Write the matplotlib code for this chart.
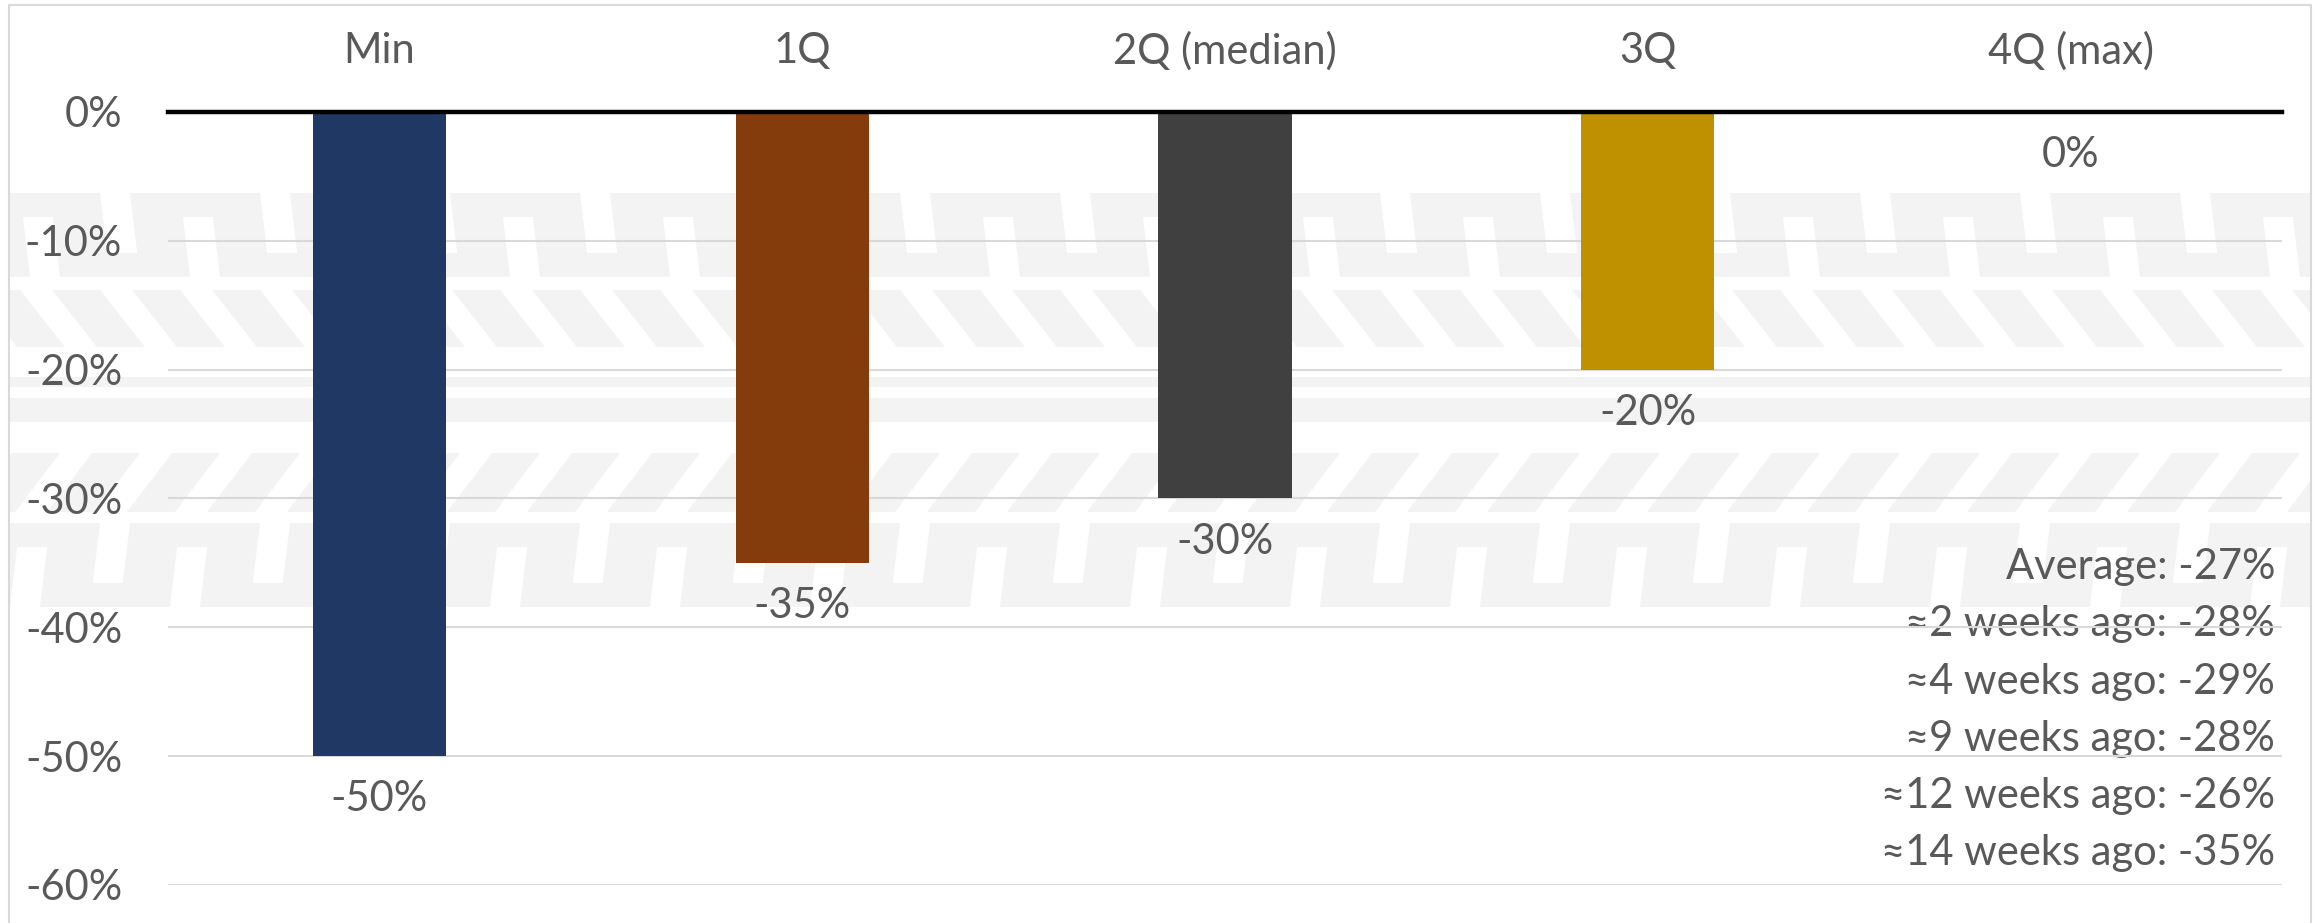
import numpy as np
import matplotlib
matplotlib.use("Agg")
import matplotlib.pyplot as plt
from matplotlib.patches import Polygon, Rectangle
from matplotlib.ticker import PercentFormatter

# ---- data ----
categories = ["Min", "1Q", "2Q (median)", "3Q", "4Q (max)"]
values = [-0.50, -0.35, -0.30, -0.20, 0.00]
bar_colors = ["#203864", "#843C0C", "#404040", "#BF9000", "#7F7F7F"]
yticks = [0.0, -0.1, -0.2, -0.3, -0.4, -0.5, -0.6]
note_labels = ["Average", "\u22482 weeks ago", "\u22484 weeks ago",
               "\u22489 weeks ago", "\u224812 weeks ago", "\u224814 weeks ago"]
note_values = [-0.27, -0.28, -0.29, -0.28, -0.26, -0.35]

plt.rcParams["font.family"] = ["Lato", "DejaVu Sans"]
plt.rcParams["axes.unicode_minus"] = False
TXT = "#595959"
FS = 30

W, H = 2321, 923
fig = plt.figure(figsize=(W / 100, H / 100), dpi=100)

# ---- decorative background (tire-tread watermark) ----
bg = fig.add_axes([0, 0, 1, 1])
bg.set_xlim(0, W)
bg.set_ylim(H, 0)
bg.axis("off")
GRAY = "#F3F3F3"

def band(y0, y1, period, sw, slant, alt_gap=0, x0=-60):
    bg.add_patch(Rectangle((0, y0), 2311, y1 - y0, color=GRAY, lw=0, zorder=0))
    k = 0
    x = x0
    while x < 2400:
        if alt_gap:
            if k % 2 == 0:
                ya, yb = y0, y1 - alt_gap
            else:
                ya, yb = y0 + alt_gap, y1
        else:
            ya, yb = y0, y1
        fa = (ya - y0) / (y1 - y0)
        fb = (yb - y0) / (y1 - y0)
        xa = x + slant * fa
        xb = x + slant * fb
        bg.add_patch(Polygon([(xa, ya), (xa + sw, ya), (xb + sw, yb), (xb, yb)],
                             closed=True, color="white", lw=0, zorder=1))
        x += period
        k += 1

band(193, 277, 80, 30, 10, alt_gap=24)
band(290, 347, 80, 32, 45)
bg.add_patch(Rectangle((0, 377), 2311, 10, color=GRAY, lw=0, zorder=0))
bg.add_patch(Rectangle((0, 398), 2311, 24, color=GRAY, lw=0, zorder=0))
band(453, 512, 80, 32, -45, x0=-20)
band(523, 607, 80, 30, -10, alt_gap=24)
bg.add_patch(Rectangle((0, 0), 2311, 5, color="white", lw=0, zorder=2))
bg.add_patch(Rectangle((2311, 0), 20, H, color="white", lw=0, zorder=2))
bg.add_patch(Rectangle((0, 0), 9, H, color="white", lw=0, zorder=2))
bg.plot([9, 9, 2311, 2311], [H + 10, 5, 5, H + 10], color="#D9D9D9", lw=1.5, zorder=3)

# ---- main chart ----
left, right, top, bottom = 168, 2282, 112, 885
ax = fig.add_axes([left / W, 1 - bottom / H, (right - left) / W, (bottom - top) / H])
ax.set_facecolor("none")
x = np.arange(len(categories))
ax.bar(x, values, width=0.315, color=bar_colors, zorder=2)
ax.set_xlim(-0.5, len(categories) - 0.5)
ax.set_ylim(-0.6, 0)
ax.set_yticks(yticks)
ax.yaxis.set_major_formatter(PercentFormatter(1.0, decimals=0))
ax.yaxis.grid(True, color="#D9D9D9", lw=1.5)
ax.set_axisbelow(True)
ax.axhline(0, color="black", lw=3.2, zorder=3, clip_on=False)
for s in ax.spines.values():
    s.set_visible(False)
ax.xaxis.tick_top()
ax.set_xticks(x, categories)
ax.tick_params(axis="x", length=0, pad=30, labelsize=FS, labelcolor=TXT)
ax.tick_params(axis="y", length=0, pad=33, labelsize=FS, labelcolor=TXT)

for xi, v in zip(x, values):
    ax.annotate(f"{v:.0%}", (xi, v), xytext=(0, -31), textcoords="offset points",
                ha="center", va="center", fontsize=FS, color=TXT)

for i, (lab, v) in enumerate(zip(note_labels, note_values)):
    bg.text(2275, 567 + i * 57.3, f"{lab}: {v:.0%}", ha="right", va="center",
            fontsize=FS, color=TXT, zorder=5)

fig.savefig("out.png", dpi=100)
